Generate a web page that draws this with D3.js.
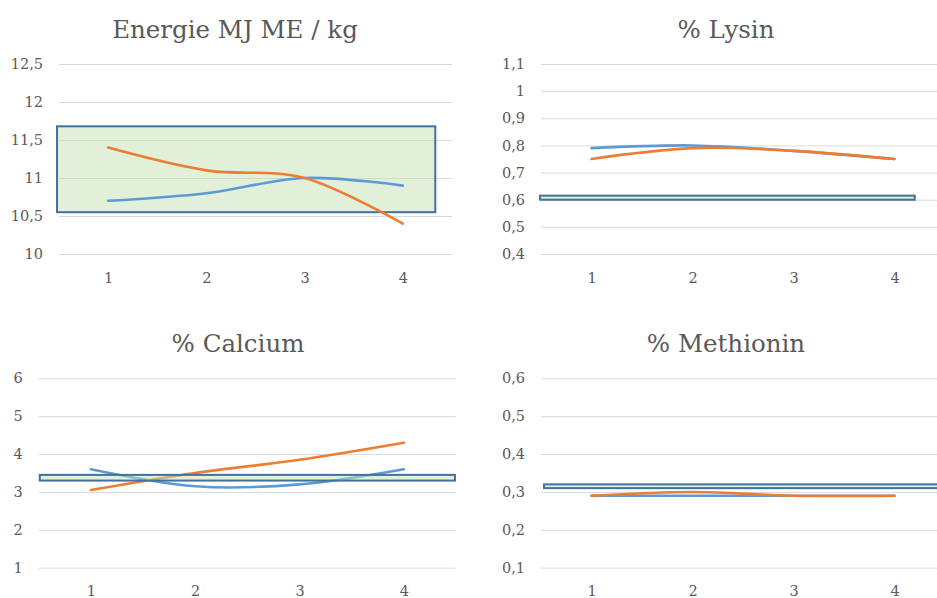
<!DOCTYPE html>
<html>
<head>
<meta charset="utf-8">
<script src="https://cdn.jsdelivr.net/npm/d3@7"></script>
<style>
  html, body { margin: 0; padding: 0; background: #fff; }
  svg { display: block; }
  text { font-family: "DejaVu Serif", serif; fill: #595959; }
</style>
</head>
<body>
<svg id="chart" width="937" height="598"></svg>
<script>
// Weeks / samples on the x axis
const categories = [1, 2, 3, 4];

// Energie MJ ME / kg
const energieBlue   = [10.7, 10.8, 11.0, 10.9];
const energieOrange = [11.4, 11.1, 11.0, 10.4];
const energieTicks  = [10, 10.5, 11, 11.5, 12, 12.5];
const energieBand   = [10.55, 11.68];
const energieBandX  = [0.48, 4.33];

// % Lysin
const lysinBlue   = [0.79, 0.80, 0.78, 0.75];
const lysinOrange = [0.75, 0.79, 0.78, 0.75];
const lysinTicks  = [0.4, 0.5, 0.6, 0.7, 0.8, 0.9, 1, 1.1];
const lysinBand   = [0.6, 0.615];
const lysinBandX  = [0.49, 4.2];

// % Calcium
const calciumBlue   = [3.6, 3.15, 3.2, 3.6];
const calciumOrange = [3.05, 3.5, 3.85, 4.3];
const calciumTicks  = [1, 2, 3, 4, 5, 6];
const calciumBand   = [3.3, 3.45];
const calciumBandX  = [0.51, 4.49];

// % Methionin
const methioninBlue   = [0.29, 0.29, 0.29, 0.29];
const methioninOrange = [0.29, 0.30, 0.29, 0.29];
const methioninTicks  = [0.1, 0.2, 0.3, 0.4, 0.5, 0.6];
const methioninBand   = [0.31, 0.32];
const methioninBandX  = [0.53, 4.7];

const BLUE = "#5B9BD5", ORANGE = "#ED7D31";
const fmt = v => String(v).replace(".", ",");

const panels = [
  { title: "Energie MJ ME / kg", titleX: 235, titleY: 38,
    left: 59, right: 452, top: 64, bottom: 254,
    ticks: energieTicks, blue: energieBlue, orange: energieOrange,
    band: energieBand, bandX: energieBandX, bandOnTop: false },
  { title: "% Lysin", titleX: 726, titleY: 38,
    left: 541, right: 945, top: 64, bottom: 254,
    ticks: lysinTicks, blue: lysinBlue, orange: lysinOrange,
    band: lysinBand, bandX: lysinBandX, bandOnTop: true },
  { title: "% Calcium", titleX: 238, titleY: 352,
    left: 38.7, right: 456, top: 378.3, bottom: 567.7,
    ticks: calciumTicks, blue: calciumBlue, orange: calciumOrange,
    band: calciumBand, bandX: calciumBandX, bandOnTop: true },
  { title: "% Methionin", titleX: 726, titleY: 352,
    left: 541, right: 945, top: 378.3, bottom: 567.7,
    ticks: methioninTicks, blue: methioninBlue, orange: methioninOrange,
    band: methioninBand, bandX: methioninBandX, bandOnTop: true }
];

const svg = d3.select("#chart");

panels.forEach(p => {
  const g = svg.append("g");
  const x = d3.scaleLinear().domain([0.5, 4.5]).range([p.left, p.right]);
  const y = d3.scaleLinear().domain(d3.extent(p.ticks)).range([p.bottom, p.top]);

  // title
  g.append("text")
    .attr("x", p.titleX).attr("y", p.titleY)
    .attr("text-anchor", "middle")
    .style("font-size", "24.5px")
    .text(p.title);

  // value axis with gridlines
  const yAxis = d3.axisLeft(y)
    .tickValues(p.ticks)
    .tickFormat(fmt)
    .tickSize(-(p.right - p.left))
    .tickPadding(16);
  const ya = g.append("g").attr("transform", `translate(${p.left},0)`).call(yAxis);
  ya.select(".domain").remove();
  ya.selectAll(".tick line").attr("stroke", "#D9D9D9").attr("stroke-width", 1);
  ya.selectAll(".tick text").style("font-size", "14.5px").attr("fill", "#595959");

  // category axis
  const xAxis = d3.axisBottom(x).tickValues(categories).tickFormat(d3.format("d"))
    .tickSize(0).tickPadding(0);
  const xa = g.append("g").attr("transform", `translate(0,${p.bottom})`).call(xAxis);
  xa.select(".domain").remove();
  xa.selectAll(".tick text")
    .attr("y", 23.5).attr("dy", "0.35em")
    .style("font-size", "14.5px").attr("fill", "#595959");

  // target band
  const drawBand = () => g.append("rect")
    .attr("x", x(p.bandX[0]))
    .attr("width", x(p.bandX[1]) - x(p.bandX[0]))
    .attr("y", y(p.band[1]))
    .attr("height", y(p.band[0]) - y(p.band[1]))
    .attr("fill", "#C5E0B4").attr("fill-opacity", 0.5)
    .attr("stroke", "#41719C").attr("stroke-width", 2);

  if (!p.bandOnTop) drawBand();

  const line = d3.line()
    .x((d, i) => x(categories[i]))
    .y(d => y(d))
    .curve(d3.curveCardinal.tension(0));

  g.append("path").datum(p.blue)
    .attr("d", line).attr("fill", "none")
    .attr("stroke", BLUE).attr("stroke-width", 2.6).attr("stroke-linecap", "round");
  g.append("path").datum(p.orange)
    .attr("d", line).attr("fill", "none")
    .attr("stroke", ORANGE).attr("stroke-width", 2.6).attr("stroke-linecap", "round");

  if (p.bandOnTop) drawBand();
});
</script>
</body>
</html>
